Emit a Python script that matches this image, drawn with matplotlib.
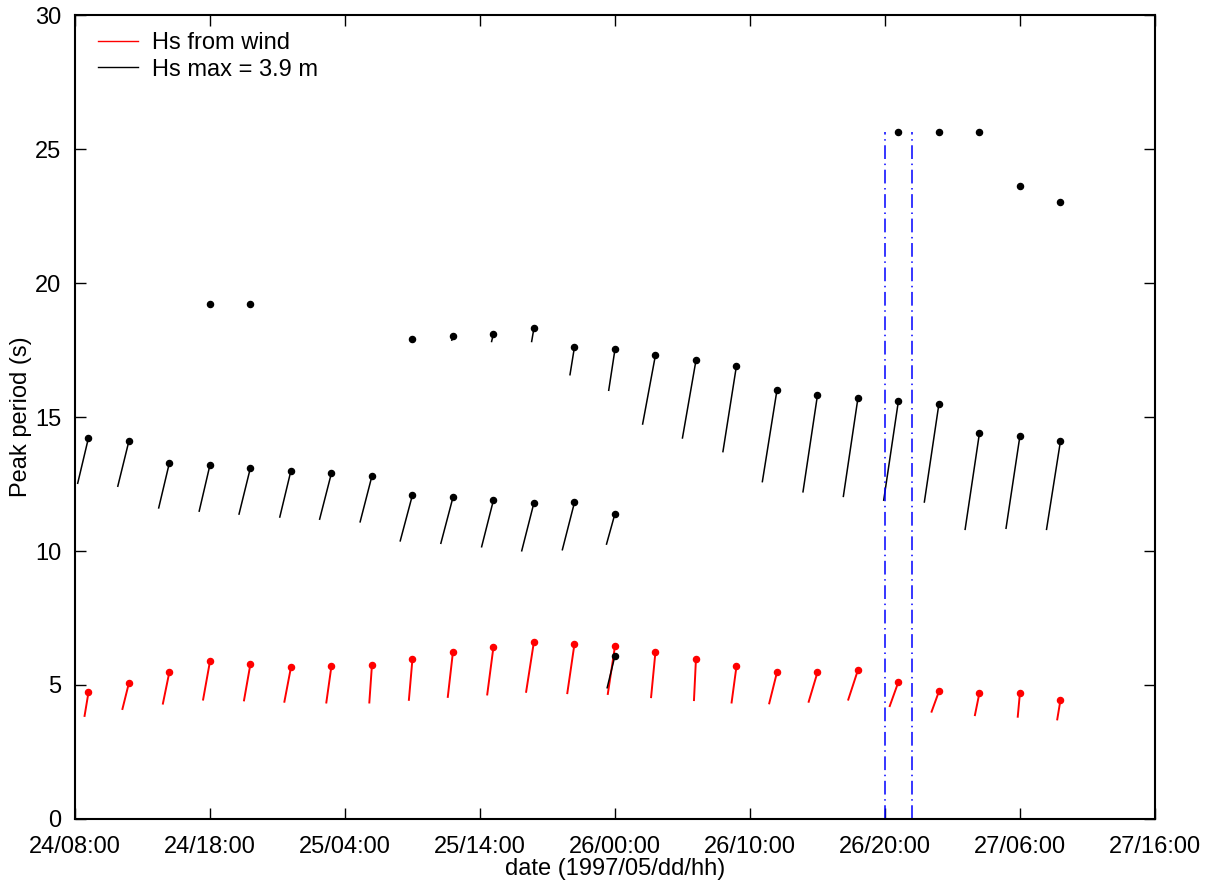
import numpy as np
import pandas as pd
import matplotlib
matplotlib.use("Agg")
import matplotlib.pyplot as plt

plt.rcParams["font.family"] = ["Liberation Sans", "DejaVu Sans"]
plt.rcParams["font.size"] = 17

# time axis: hours since 24/08:00 (1997/05)
t0 = pd.Timestamp("1997-05-24 08:00")
hours = np.arange(1, 74, 3)  # 3-hourly output, 24/09 .. 27/09

# wind sea (red): peak period at the dot, stick tail period and horizontal offset (h)
wind_tp = [4.72, 5.08, 5.50, 5.88, 5.79, 5.66, 5.71, 5.75, 5.97, 6.24, 6.42, 6.62, 6.53,
           6.44, 6.24, 5.97, 5.69, 5.47, 5.47, 5.56, 5.12, 4.76, 4.71, 4.71, 4.44]
wind_tail = [3.81, 4.07, 4.27, 4.42, 4.39, 4.34, 4.31, 4.31, 4.41, 4.52, 4.61, 4.71, 4.66,
             4.63, 4.51, 4.40, 4.31, 4.28, 4.34, 4.42, 4.18, 3.97, 3.84, 3.78, 3.68]
wind_dx = [-0.30, -0.50, -0.50, -0.52, -0.49, -0.50, -0.39, -0.20, -0.27, -0.39, -0.47, -0.59, -0.54,
           -0.54, -0.33, -0.15, -0.37, -0.59, -0.67, -0.74, -0.67, -0.57, -0.35, -0.17, -0.25]

nan = np.nan
# swell partitions (black)
sw1_tp = [14.22, 14.11, 13.30, 13.21, 13.11, 13.00, 12.91, 12.80, 12.09, 12.00, 11.90, 11.80, 11.81,
          11.39, nan, nan, nan, nan, nan, nan, nan, nan, nan, nan, nan]
sw1_tail = [12.50, 12.39, 11.58, 11.46, 11.35, 11.24, 11.16, 11.06, 10.35, 10.26, 10.13, 9.98, 10.02,
            10.23, nan, nan, nan, nan, nan, nan, nan, nan, nan, nan, nan]
sw1_dx = [-0.81, -0.84, -0.81, -0.81, -0.86, -0.84, -0.89, -0.89, -0.92, -0.91, -0.89, -0.92, -0.91,
          -0.64, nan, nan, nan, nan, nan, nan, nan, nan, nan, nan, nan]

sw2_tp = [nan, nan, nan, nan, nan, nan, nan, nan, 17.91, 18.02, 18.11, 18.32, 17.61,
          17.52, 17.31, 17.11, 16.91, 16.00, 15.81, 15.71, 15.61, 15.50, 14.40, 14.30, 14.10]
sw2_tail = [nan, nan, nan, nan, nan, nan, nan, nan, 17.80, 17.84, 17.79, 17.79, 16.55,
            15.97, 14.71, 14.19, 13.68, 12.56, 12.18, 12.01, 11.87, 11.80, 10.78, 10.82, 10.78]
sw2_dx = [nan, nan, nan, nan, nan, nan, nan, nan, -0.10, -0.10, -0.15, -0.18, -0.34,
          -0.47, -0.96, -1.01, -1.01, -1.09, -1.08, -1.09, -1.10, -1.09, -1.07, -1.04, -1.04]

sw3_tp = [nan, nan, nan, 19.2, 19.2, nan, nan, nan, nan, nan, nan, nan, nan,
          6.09, nan, nan, nan, nan, nan, nan, 25.62, 25.62, 25.62, 23.62, 23.01]
sw3_tail = [nan, nan, nan, 19.2, 19.2, nan, nan, nan, nan, nan, nan, nan, nan,
            4.87, nan, nan, nan, nan, nan, nan, 25.62, 25.62, 25.62, 23.62, 23.01]
sw3_dx = [nan, nan, nan, 0.0, 0.0, nan, nan, nan, nan, nan, nan, nan, nan,
          -0.59, nan, nan, nan, nan, nan, nan, 0.0, 0.0, 0.0, 0.0, 0.0]

# storm window marked with blue dash-dot lines
window_hours = [60, 62]
window_top = 25.62

tick_hours = np.arange(0, 81, 10)
tick_labels = [(t0 + pd.Timedelta(hours=int(h))).strftime("%d/%H:%M") for h in tick_hours]

fig = plt.figure(figsize=(12.09, 8.85), dpi=100)
ax = fig.add_axes([0.062, 0.0746, 0.8933, 0.9084])


def draw_sticks(tp, tail, dx, color, lw):
    for h, p, q, d in zip(hours, tp, tail, dx):
        if np.isnan(p):
            continue
        ax.plot([h + d, h], [q, p], color=color, lw=lw, solid_capstyle="butt")
        ax.plot(h, p, "o", color=color, ms=4.4, mec=color)


draw_sticks(wind_tp, wind_tail, wind_dx, "red", 1.4)
for tp, tail, dx in [(sw1_tp, sw1_tail, sw1_dx), (sw2_tp, sw2_tail, sw2_dx), (sw3_tp, sw3_tail, sw3_dx)]:
    draw_sticks(tp, tail, dx, "black", 1.1)

for h in window_hours:
    ax.plot([h, h], [0, window_top], color="blue", lw=1.1, ls=(0, (9, 3, 1, 3)))

# legend proxies
ax.plot([], [], color="red", lw=1, label="Hs from wind")
ax.plot([], [], color="black", lw=1, label="Hs max = 3.9 m")
ax.legend(loc="upper left", bbox_to_anchor=(0.0213, 0.979), frameon=False, handlelength=1.7,
          handletextpad=0.6, labelspacing=0.2, borderaxespad=0, borderpad=0, fontsize=17)

ax.set_xlim(0, 80)
ax.set_ylim(0, 30)
ax.set_xticks(tick_hours)
ax.set_xticklabels(tick_labels)
ax.set_yticks(np.arange(0, 31, 5))
ax.tick_params(direction="in", length=8, width=1, top=True, right=True)
ax.tick_params(axis="x", pad=12)
ax.tick_params(axis="y", pad=10)
ax.set_xlabel("date (1997/05/dd/hh)", labelpad=0)
ax.set_ylabel("Peak period (s)", labelpad=2)
for s in ax.spines.values():
    s.set_linewidth(1.5)

fig.savefig("out.png", dpi=100)
